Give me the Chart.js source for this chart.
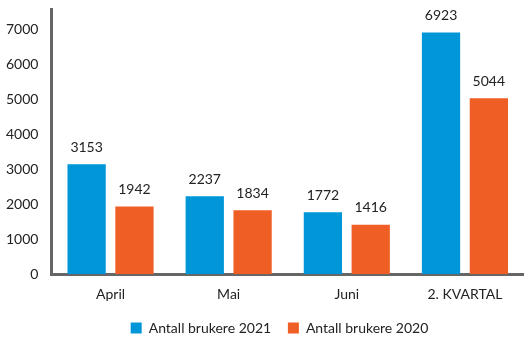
<!DOCTYPE html>
<html lang="no">
<head>
  <meta charset="UTF-8">
  <title>Antall brukere</title>
  <style>
    html, body { margin: 0; padding: 0; background: #fff; }
    #wrap { width: 524px; height: 349px; }
  </style>
</head>
<body>
  <div id="wrap"><canvas id="myChart"></canvas></div>

  <script src="https://cdn.jsdelivr.net/npm/chart.js"></script>
  <script>
    const months = ['April', 'Mai', 'Juni', '2. KVARTAL'];
    const users2021 = [3153, 2237, 1772, 6923];
    const users2020 = [1942, 1834, 1416, 5044];
    const yTicks = [0, 1000, 2000, 3000, 4000, 5000, 6000, 7000];

    // writes the number above every bar
    const valueLabels = {
      id: 'valueLabels',
      afterDatasetsDraw(chart) {
        const ctx = chart.ctx;
        ctx.save();
        ctx.font = '14px Lato';
        ctx.fillStyle = '#222';
        ctx.textAlign = 'center';
        ctx.textBaseline = 'bottom';
        chart.data.datasets.forEach((ds, i) => {
          chart.getDatasetMeta(i).data.forEach((bar, j) => {
            ctx.fillText(ds.data[j], bar.x, bar.y - 10);
          });
        });
        ctx.restore();
      }
    };

    // nudge the legend a bit to the right
    const legendShift = {
      id: 'legendShift',
      afterLayout(chart) {
        chart.legend.left += 21;
        chart.legend.right += 21;
      }
    };

    Chart.defaults.font.family = 'Lato';
    Chart.defaults.font.size = 14;
    Chart.defaults.color = '#222';

    new Chart(document.getElementById('myChart'), {
      type: 'bar',
      data: {
        labels: months,
        datasets: [{
          label: 'Antall brukere 2021',
          data: users2021,
          backgroundColor: '#0096d8'
        }, {
          label: 'Antall brukere 2020',
          data: users2020,
          backgroundColor: '#ef5e24'
        }]
      },
      options: {
        responsive: true,
        maintainAspectRatio: false,
        animation: false,
        barPercentage: 0.8,
        categoryPercentage: 0.81,
        layout: { padding: { top: 9, left: -7, right: 0, bottom: 4 } },
        plugins: {
          tooltip: { enabled: false },
          legend: {
            position: 'bottom',
            labels: {
              boxWidth: 11,
              boxHeight: 11,
              padding: 6,
              color: '#222',
              // extra room after the first entry
              generateLabels(chart) {
                const items = Chart.defaults.plugins.legend.labels.generateLabels(chart);
                items[0].text += '   ';
                return items;
              }
            }
          }
        },
        scales: {
          x: {
            grid: { display: false, drawTicks: false },
            border: { color: '#666', width: 3 },
            ticks: { padding: 12 }
          },
          y: {
            min: 0,
            max: 7600,
            grid: { display: false, drawTicks: false },
            border: { color: '#666', width: 3 },
            afterBuildTicks(axis) {
              axis.ticks = yTicks.map(v => ({ value: v }));
            },
            afterFit(axis) {
              axis.paddingTop = 0;
              axis.paddingBottom = 0;
            },
            ticks: { padding: 13, callback: v => String(v) }
          }
        }
      },
      plugins: [valueLabels, legendShift]
    });
  </script>
</body>
</html>
